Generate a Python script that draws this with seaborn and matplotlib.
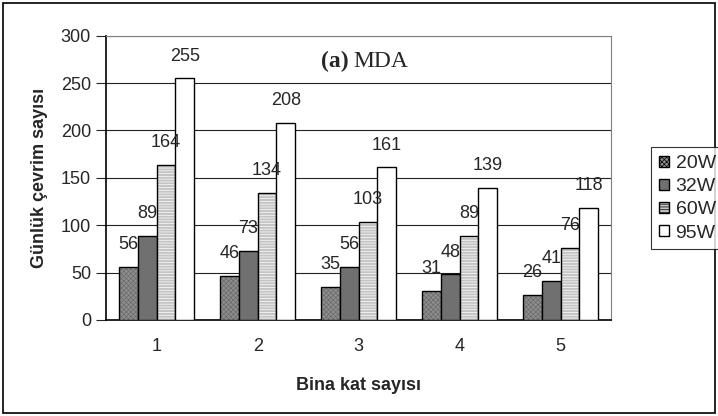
import matplotlib
matplotlib.use("Agg")
import matplotlib.pyplot as plt
import matplotlib.colors as mcolors
from matplotlib.patches import Patch, Rectangle
import seaborn as sns
import pandas as pd

floors = ["1", "2", "3", "4", "5"]
powers = ["20W", "32W", "60W", "95W"]
v20 = [56, 46, 35, 31, 26]
v32 = [89, 73, 56, 48, 41]
v60 = [164, 134, 103, 89, 76]
v95 = [255, 208, 161, 139, 118]

rows = []
for name, vals in zip(powers, [v20, v32, v60, v95]):
    for f, v in zip(floors, vals):
        rows.append({"floor": f, "power": name, "value": v})
df = pd.DataFrame(rows)

sns.set_style("white")
plt.rcParams["font.family"] = ["Liberation Sans", "DejaVu Sans"]
plt.rcParams["hatch.linewidth"] = 0.5

styles = {
    "20W": dict(face="#8e8e8e", hatch="xxxxxxx", hc="#6a6a6a"),
    "32W": dict(face="#707070", hatch=None, hc=None),
    "60W": dict(face="#c4c4c4", hatch="------", hc="#ffffff"),
    "95W": dict(face="#ffffff", hatch=None, hc=None),
}

fig = plt.figure(figsize=(7.18, 4.16), dpi=100)
ax = fig.add_axes([0.148, 0.231, 0.703, 0.683])

sns.barplot(data=df, x="floor", y="value", hue="power", order=floors,
            hue_order=powers, ax=ax, width=0.74, legend=False, zorder=3)

for cont, name in zip(ax.containers, powers):
    st = styles[name]
    for p in cont:
        p.set_facecolor(st["face"])
        p.set_edgecolor("black")
        p.set_linewidth(1.0)
        if st["hatch"]:
            p.set_hatch(st["hatch"])
            p._hatch_color = mcolors.to_rgba(st["hc"])
    ax.bar_label(cont, labels=[str(int(p.get_height())) for p in cont],
                 padding=10, fontsize=13)

ax.set_ylim(0, 300)
ax.set_yticks(range(0, 301, 50))
ax.yaxis.grid(True, color="#222222", linewidth=0.8, zorder=0)
ax.set_axisbelow(True)
ax.set_xlabel("Bina kat sayısı", fontsize=13, fontweight="bold", labelpad=16)
ax.set_ylabel("Günlük çevrim sayısı", fontsize=13, fontweight="bold", labelpad=9)
ax.tick_params(axis="both", labelsize=13, direction="out", left=True, bottom=True)
ax.tick_params(axis="y", length=7, pad=4)
ax.set_xticks([x + 0.5 for x in range(-1, 5)], minor=True)
ax.tick_params(axis="x", which="major", length=0, pad=13)
ax.tick_params(axis="x", which="minor", length=6, width=1)

for side in ["top", "right"]:
    ax.spines[side].set_color("#808080")
for side in ["left", "bottom"]:
    ax.spines[side].set_color("black")
    ax.spines[side].set_linewidth(1.2)

ax.text(0.481, 0.908, "(a)", transform=ax.transAxes, ha="right", va="center",
        fontsize=17, fontweight="bold", family="Liberation Serif")
ax.text(0.489, 0.908, "MDA", transform=ax.transAxes, ha="left", va="center",
        fontsize=17, family="Liberation Serif")

handles = []
for name in powers:
    st = styles[name]
    h = Patch(facecolor=st["face"], edgecolor="black", hatch=st["hatch"], label=name)
    handles.append(h)
leg = fig.legend(handles=handles, loc="upper left", bbox_to_anchor=(0.907, 0.646),
                 frameon=True, fancybox=False, edgecolor="black", fontsize=14,
                 handlelength=0.5, handleheight=0.5, handletextpad=0.35,
                 labelspacing=0.32, borderpad=0.4, borderaxespad=0)
leg.get_frame().set_linewidth(0.8)

fig.patches.append(Rectangle((0.004, 0.008), 0.992, 0.984, transform=fig.transFigure,
                             fill=False, edgecolor="black", linewidth=1.2))

fig.savefig("out.png", dpi=100)
